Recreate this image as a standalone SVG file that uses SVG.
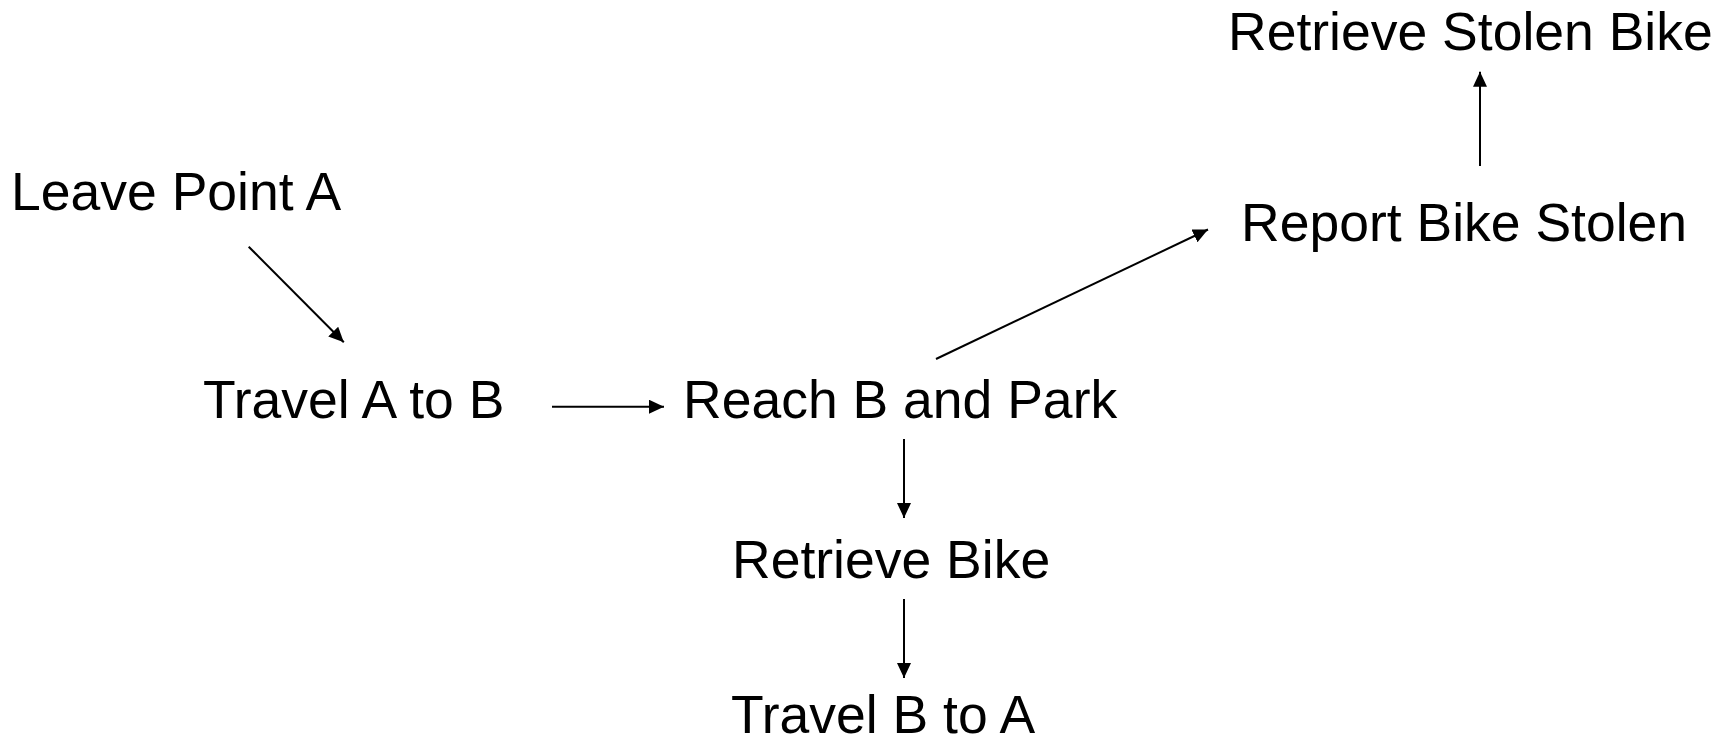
<svg xmlns="http://www.w3.org/2000/svg" width="1729" height="744" viewBox="0 0 1729 744">
<style>
text{font-family:"Liberation Sans",Arial,sans-serif;font-size:53.5px;fill:#000}
.c{stroke:#000;stroke-width:2;fill:none}
</style>
<defs>
<marker id="ah" markerUnits="userSpaceOnUse" markerWidth="16" markerHeight="16" refX="15" refY="7" orient="auto">
<path d="M0,0 L15,7 L0,14 z" fill="#000"/>
</marker>
</defs>
<rect width="1729" height="744" fill="#fff"/>
<g id="leave"><text x="11" y="210">Leave Point A</text></g>
<g id="travelAB"><text x="203" y="418">Travel A to B</text></g>
<g id="reach"><text x="683" y="418">Reach B and Park</text></g>
<g id="retrieve"><text x="732" y="578">Retrieve Bike</text></g>
<g id="travelBA"><text x="731" y="733">Travel B to A</text></g>
<g id="report"><text x="1241" y="241">Report Bike Stolen</text></g>
<g id="stolen"><text x="1228" y="50">Retrieve Stolen Bike</text></g>
<g id="connectors">
<line class="c" x1="248.7" y1="246.7" x2="343.8" y2="342.3" marker-end="url(#ah)"/>
<line class="c" x1="552" y1="406.7" x2="664" y2="406.7" marker-end="url(#ah)"/>
<line class="c" x1="904" y1="439" x2="904" y2="518" marker-end="url(#ah)"/>
<line class="c" x1="904" y1="599" x2="904" y2="678" marker-end="url(#ah)"/>
<line class="c" x1="936" y1="359" x2="1208" y2="229.5" marker-end="url(#ah)"/>
<line class="c" x1="1480" y1="166" x2="1480" y2="71.7" marker-end="url(#ah)"/>
</g>
</svg>
